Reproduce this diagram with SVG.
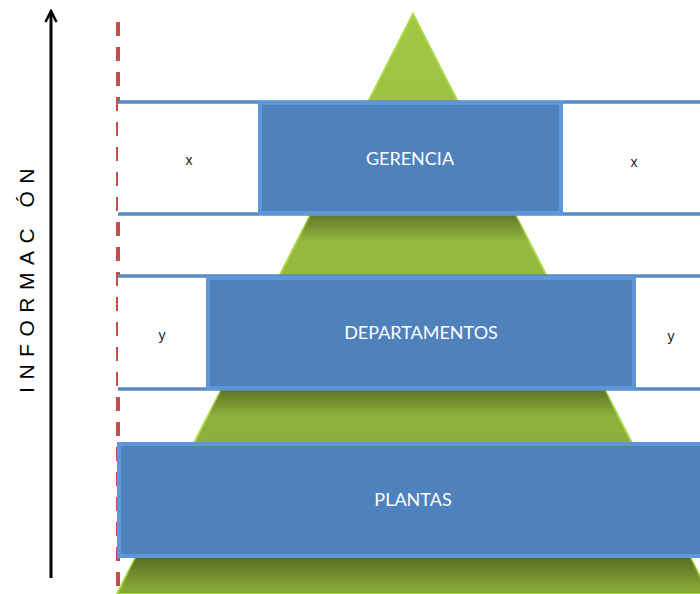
<svg xmlns="http://www.w3.org/2000/svg" width="700" height="594" viewBox="0 0 700 594">
<defs>
<linearGradient id="gTri" x1="0" y1="0" x2="0" y2="1">
<stop offset="0" stop-color="#a2c644"/>
<stop offset="1" stop-color="#86a637"/>
</linearGradient>
<linearGradient id="gShadow" x1="0" y1="0" x2="0" y2="1">
<stop offset="0" stop-color="#000" stop-opacity="0.35"/>
<stop offset="1" stop-color="#000" stop-opacity="0"/>
</linearGradient>
<clipPath id="triClip"><polygon points="413,14 117,594 709,594"/></clipPath>
<marker id="arr" markerWidth="14" markerHeight="14" refX="12" refY="7" orient="auto" markerUnits="userSpaceOnUse" viewBox="0 0 14 14">
<polyline points="1,1.5 12,7 1,12.5" fill="none" stroke="#000" stroke-width="2.5"/>
</marker>
</defs>
<style>
.band{fill:#fff}
.bline{stroke:#5a88c2;stroke-width:3.5}
.box{fill:#4f81bd;stroke:#5d97d8;stroke-width:4}
.lbl{font-family:Lato,"Open Sans","Liberation Sans",sans-serif;font-size:18px;fill:#fff;text-anchor:middle}
.side{font-family:"Liberation Sans",sans-serif;font-size:14px;fill:#222;text-anchor:middle}
</style>
<rect width="700" height="594" fill="#fff"/>
<g id="pyramid">
<polygon points="413,14 117,594 709,594" fill="url(#gTri)" stroke="#abd944" stroke-width="2"/>
<g clip-path="url(#triClip)">
<rect x="100" y="216" width="620" height="26" fill="url(#gShadow)"/>
<rect x="100" y="390" width="620" height="26" fill="url(#gShadow)"/>
<rect x="100" y="558" width="620" height="30" fill="url(#gShadow)"/>
</g>
</g>
<g id="axis">
<line x1="51" y1="578" x2="51" y2="11" stroke="#000" stroke-width="3" marker-end="url(#arr)"/>
<text transform="translate(34,277) rotate(-90)" font-family="'Liberation Sans',sans-serif" font-size="21" letter-spacing="7.5" text-anchor="middle" fill="#000">INFORMAC ÓN</text>
</g>
<g id="limit">
<line x1="118" y1="22" x2="118" y2="594" stroke="#c0504d" stroke-width="4" stroke-dasharray="14,11"/>
</g>
<g id="gerencia">
<rect class="band" x="118" y="103" width="590" height="111"/>
<line class="bline" x1="118" y1="102" x2="700" y2="102"/>
<line class="bline" x1="118" y1="214" x2="700" y2="214"/>
<rect class="box" x="260" y="103" width="301" height="110"/>
<text class="lbl" x="410" y="165">GERENCIA</text>
<text class="side" x="189" y="165">x</text>
<text class="side" x="634" y="167">x</text>
</g>
<g id="departamentos">
<rect class="band" x="118" y="277" width="590" height="112"/>
<line class="bline" x1="118" y1="276" x2="700" y2="276"/>
<line class="bline" x1="118" y1="389" x2="700" y2="389"/>
<rect class="box" x="208" y="278" width="426" height="110"/>
<text class="lbl" x="421" y="339">DEPARTAMENTOS</text>
<text class="side" x="162" y="340">y</text>
<text class="side" x="671" y="341">y</text>
</g>
<g id="plantas">
<rect class="box" x="119" y="444" width="590" height="112"/>
<text class="lbl" x="413" y="506">PLANTAS</text>
</g>
</svg>
